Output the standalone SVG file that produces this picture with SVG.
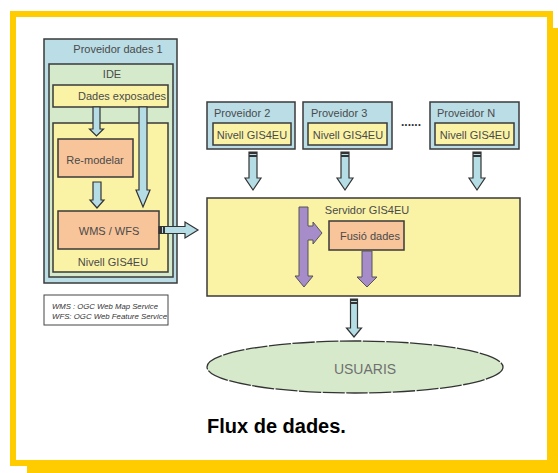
<svg xmlns="http://www.w3.org/2000/svg" width="558" height="473" viewBox="0 0 558 473">
<style>
text{font-family:"Liberation Sans",Arial,sans-serif;fill:#4a4a4a;font-size:11px}
.c{text-anchor:middle}
.box{stroke:#3a3a3a;stroke-width:1.5}
.blue{fill:#BADDE6}
.green{fill:#D4EACB}
.yel{fill:#FAF3A6}
.org{fill:#F8C49A}
.barrow{fill:#B5DDE6;stroke:#333;stroke-width:1.2}
.parrow{fill:#A68CC8;stroke:#555;stroke-width:1}
.stripe{fill:#333}
.leg{font-size:8px;font-style:italic;fill:#333}
</style>
<rect x="27" y="28" width="540" height="455" fill="#FFCC00"/>
<rect x="13" y="14" width="537" height="449" fill="#fff" stroke="#FFCC00" stroke-width="6"/>

<g id="proveidor1">
<rect class="box blue" x="44" y="39" width="133" height="244"/>
<text class="c" x="118" y="53">Proveidor dades 1</text>
</g>
<g id="ide">
<rect class="box green" x="49" y="64" width="124" height="213"/>
<text class="c" x="112" y="78">IDE</text>
</g>
<g id="dades-exposades">
<rect class="box yel" x="53" y="85" width="115" height="22"/>
<text x="78" y="100">Dades exposades</text>
</g>
<g id="nivell-gis4eu-1">
<rect class="box yel" x="53" y="123" width="115" height="149"/>
<text class="c" x="113" y="266">Nivell GIS4EU</text>
</g>
<g id="re-modelar">
<rect class="box org" x="58" y="139" width="75" height="38"/>
<text class="c" x="95" y="164">Re-modelar</text>
</g>
<g id="wms-wfs">
<rect class="box org" x="58" y="211" width="101" height="38"/>
<text class="c" x="109" y="235">WMS / WFS</text>
</g>
<g id="legend">
<rect x="44" y="295" width="124" height="30" fill="#fff" stroke="#444" stroke-width="1"/>
<text class="leg" x="52" y="309" textLength="106" lengthAdjust="spacingAndGlyphs">WMS : OGC Web Map Service</text>
<text class="leg" x="52" y="319" textLength="115" lengthAdjust="spacingAndGlyphs">WFS: OGC Web Feature Service</text>
</g>

<g id="proveidor2">
<rect class="box blue" x="207" y="102" width="88" height="47"/>
<text x="214" y="117">Proveidor 2</text>
<rect class="box yel" x="213" y="123" width="78" height="22"/>
<text class="c" x="252" y="139">Nivell GIS4EU</text>
</g>
<g id="proveidor3">
<rect class="box blue" x="303" y="102" width="89" height="47"/>
<text x="311" y="117">Proveidor 3</text>
<rect class="box yel" x="308" y="123" width="79" height="22"/>
<text class="c" x="348" y="139">Nivell GIS4EU</text>
</g>
<g id="dots">
<text x="401" y="126" style="font-size:12px;font-weight:bold;fill:#333">......</text>
</g>
<g id="proveidorN">
<rect class="box blue" x="430" y="102" width="89" height="47"/>
<text x="437" y="117">Proveidor N</text>
<rect class="box yel" x="435" y="123" width="79" height="22"/>
<text class="c" x="475" y="139">Nivell GIS4EU</text>
</g>

<g id="servidor">
<rect class="box yel" x="207" y="198" width="313" height="98"/>
<text class="c" x="367" y="214">Servidor GIS4EU</text>
</g>
<g id="fusio-dades">
<rect class="box org" x="329" y="221" width="75" height="29"/>
<text class="c" x="370" y="240">Fusió dades</text>
</g>
<g id="usuaris">
<ellipse cx="355" cy="367" rx="148" ry="26" fill="#D6EACB" stroke="#333" stroke-width="1.3" stroke-dasharray="22 1.5"/>
<text class="c" x="365" y="374" style="font-size:14px;fill:#707070">USUARIS</text>
</g>
<g id="caption">
<text x="207" y="433" style="font-size:20px;font-weight:bold;fill:#000">Flux de dades.</text>
</g>

<g id="connectors">
<polygon class="barrow" points="93,107 100,107 100,129 103.5,129 96.5,136 89.5,129 93,129"/>
<polygon class="barrow" points="139,107 147,107 147,190 150,190 143,207 136,190 139,190"/>
<polygon class="barrow" points="93,182 101,182 101,200 104,200 97,208 90,200 93,200"/>
<polygon class="barrow" points="159,226.5 185,226.5 185,222 198,230 185,238 185,233.5 159,233.5"/>
<rect class="stripe" x="159" y="226.5" width="3" height="7"/>
<rect class="stripe" x="163" y="226.5" width="2" height="7"/>

<polygon class="barrow" points="249,152 257,152 257,178 261,178 253,190 245,178 249,178"/>
<rect class="stripe" x="249" y="152" width="8" height="2"/>
<rect class="stripe" x="249" y="155" width="8" height="2"/>
<polygon class="barrow" points="341,152 349,152 349,178 353,178 345,190 337,178 341,178"/>
<rect class="stripe" x="341" y="152" width="8" height="2"/>
<rect class="stripe" x="341" y="155" width="8" height="2"/>
<polygon class="barrow" points="473,152 481,152 481,178 485,178 477,190 469,178 473,178"/>
<rect class="stripe" x="473" y="152" width="8" height="2"/>
<rect class="stripe" x="473" y="155" width="8" height="2"/>

<polygon class="barrow" points="350.5,299 357.5,299 357.5,328 361.5,328 354,337 346.5,328 350.5,328"/>
<rect class="stripe" x="350.5" y="299" width="7" height="2"/>
<rect class="stripe" x="350.5" y="302" width="7" height="2"/>

<path class="parrow" d="M299,207 L308,207 L308,226 L313,226 L313,222 L322,233 L313,244 L313,240 L308,240 L308,276 L313,276 L304,287 L295,276 L299,276 Z"/>
<polygon class="parrow" points="362,251 372,251 372,277 377,277 367,287 357,277 362,277"/>
</g>
</svg>
